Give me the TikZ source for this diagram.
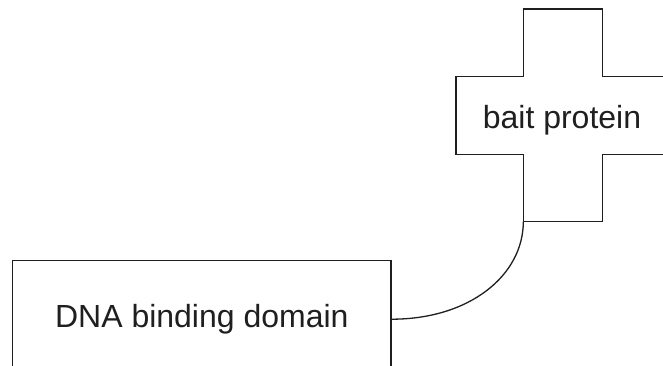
\documentclass[tikz,border=0pt]{standalone}
\usepackage{fontspec}
\setmainfont{Liberation Sans}
\begin{document}
\begin{tikzpicture}[x=1pt,y=-1pt, line width=1.3pt, color=black!88,
  box/.style={draw, rectangle, minimum width=378.3pt, minimum height=117pt, inner sep=0pt, font=\fontsize{32}{38}\selectfont},
  lbl/.style={font=\fontsize{32}{38}\selectfont, inner sep=0pt}]
\useasboundingbox (0,0) rectangle (663,366);
\clip (0,0) rectangle (663,366);
\node[box] (dna) at (201.85,319.2) {DNA binding domain};
\draw (523.3,221.7) -- (523.3,154.3) -- (456,154.3) -- (456,76.7) -- (523.3,76.7) -- (523.3,9) -- (602.3,9) -- (602.3,76.7) -- (680,76.7) -- (680,154.3) -- (602.3,154.3) -- (602.3,221.7) -- cycle;
\coordinate (crossbl) at (523.3,221.7);
\node[lbl, anchor=base] (bait) at (562,128.3) {bait protein};
\draw (dna.east) .. controls (470,319.2) and (523.3,275) .. (crossbl);
\end{tikzpicture}
\end{document}
